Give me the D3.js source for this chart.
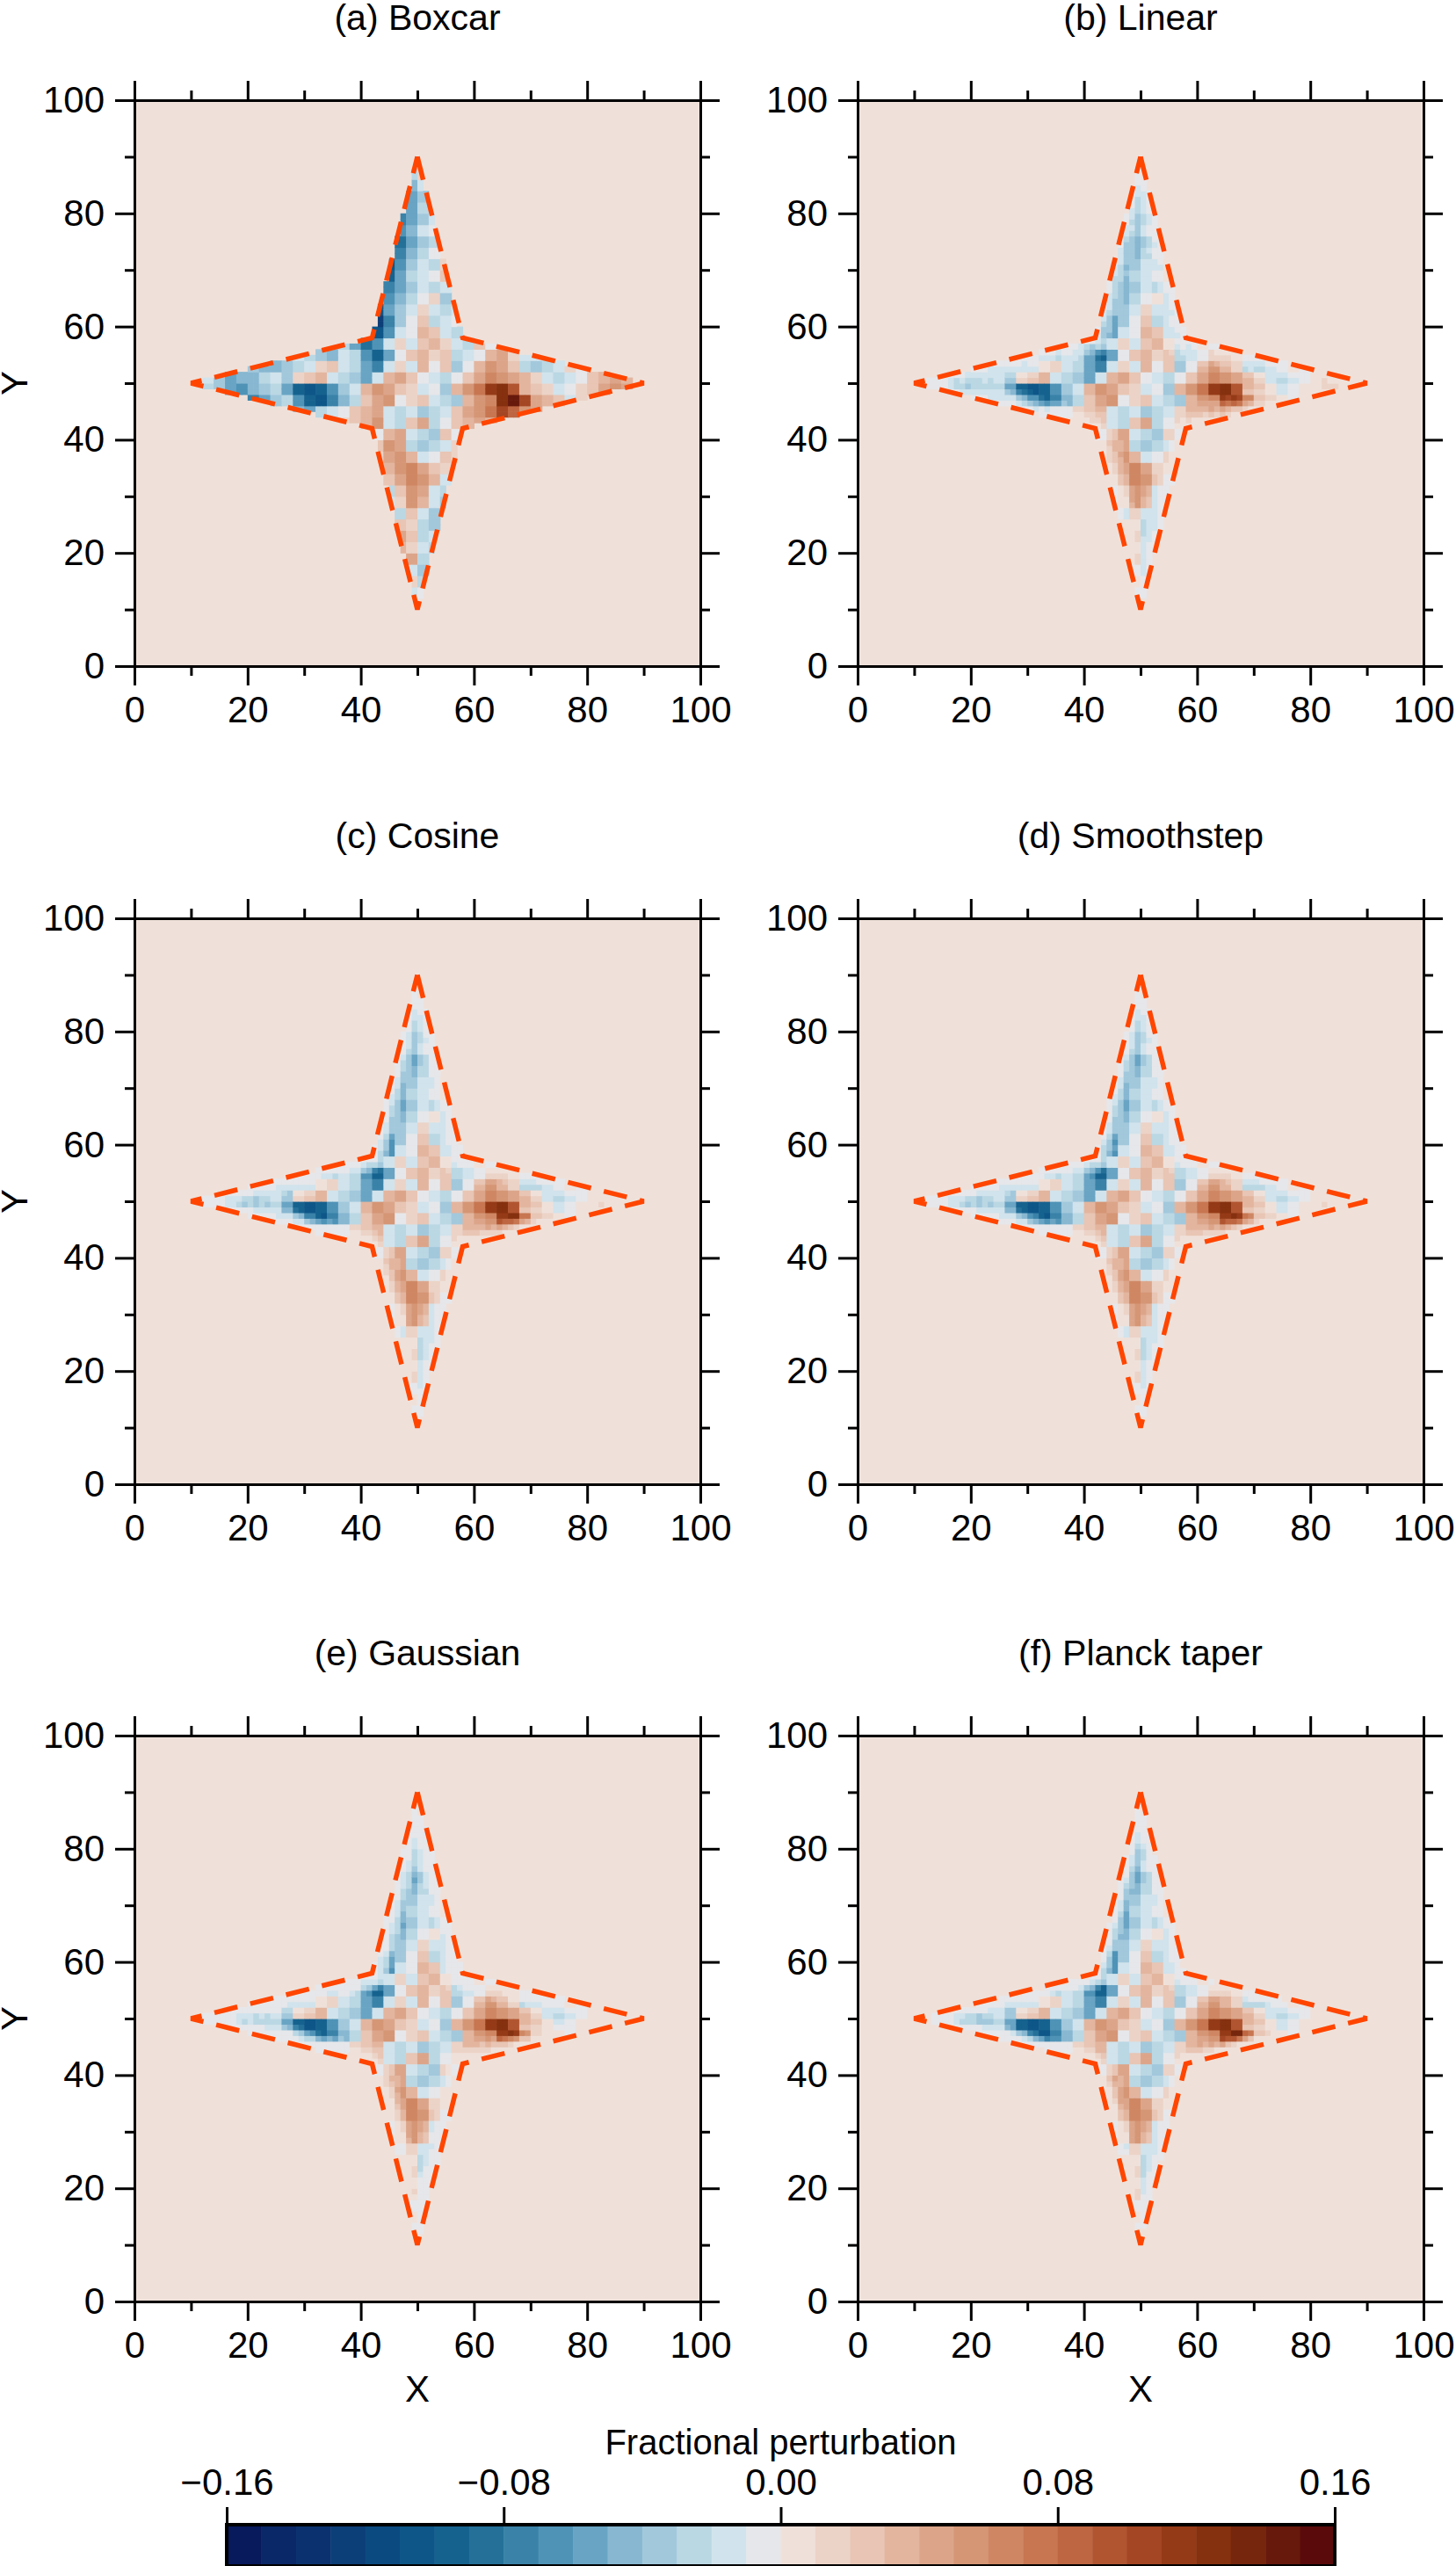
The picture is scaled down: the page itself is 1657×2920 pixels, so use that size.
<!DOCTYPE html>
<html>
<head>
<meta charset="utf-8">
<script src="https://cdn.jsdelivr.net/npm/d3@7"></script>
<style>
  body { margin: 0; background: #fff; }
  text { font-family: "Liberation Sans", Arial, sans-serif; fill: #000; }
</style>
</head>
<body>
<div id="chart"></div>
<script>
// panel titles and taper windows
const panelTitles = ["(a) Boxcar", "(b) Linear", "(c) Cosine", "(d) Smoothstep", "(e) Gaussian", "(f) Planck taper"];
const windows = ["boxcar", "linear", "cosine", "smoothstep", "gaussian", "planck"];

// star outline (data units)
const starX = [50, 58, 90, 58, 50, 42, 10, 42];
const starY = [90, 58, 50, 42, 10, 42, 50, 58];

// perturbation field, 2-unit cells, value in units of 0.01
// key: p..a = -16..-1, '.' = 0, A..P = +1..+16
const levelKey = "ponmlkjihgfedcba.ABCDEFGHIJKLMNOP";
// vertical arm, rows from y=90 down to y=10, cols x=42..58
const vertStrip = [
  "...bb...", "...cA...", "...ebd..", "...fdB..", "..gfcaB.", "..hfdbA.", "..gebaC.", "..ifdcB.",
  ".jhecaB.", ".kgdbcA.", ".jfcbaBa", "jhfdbcba", "jgecaAdb", "kfdbAbcb", "mhdaBcba", "kgbaCBbc",
  "........", "........", "........", "........", "........", "........", "........", "........",
  "aCDbcdBa", "BEDcdcbA", "ADECbaBA", "bCEFDBAa", "aBDFECba", "bcBEDbc.", ".bAECbd.", ".AcBbdc.",
  ".CBAcdb.", "..DBcb..", "..CAbc..", "..aDc...", "...bd...", "...Ac...", "...ba...", "...a...."
];
// horizontal arm, rows y=58 down to y=42, cols x=10..90
const horizStrip = [
  "............bcfigbAbBCAbcBaCBa..........",
  ".........bcdebcgjfaBCABcbaCDAbbcba......",
  "....cdeedcbABbcfhbAbCaBdaCEDBcdcbAaa....",
  ".bdfeecbdABCbcdfbCDBabcaBDFEDCAbcbaBCDC.",
  "acdfgedcfjkjgdbCEDBAbadCEGKLICBAbaABDEDA",
  ".begjhfdcgjkhecBDEaABbcdCEFLNJDCBbABCBa.",
  "....egcbdefcbaBCDbcbdcbBDEGJHEDCBaA.....",
  "..........dcbABCEbcBDcaBCDCB............"
];

const barColors = [
  "#08195c","#0a2767","#0b326f","#0c3e78","#0b4a80","#0d5687","#16628f","#247099",
  "#3a82a8","#4f93b7","#69a4c4","#87b7d1","#a2c8dc","#bad7e4","#d1e3ec","#e6e7ea",
  "#efe1da","#ecd3c7","#e8c5b4","#e3b59f","#dca58a","#d59676","#cf8763","#c77651",
  "#bd6641","#b15531","#a44623","#953a17","#85300f","#75260d","#67190c","#5a0a0a"
];
const barTicks = [-0.16, -0.08, 0, 0.08, 0.16];

const W = 1657, H = 2920;
const panelLeft = [153, 976];
const panelTop = [114, 1045, 1975];
const size = 644;
const taperWidth = 4;

const svg = d3.select("#chart").append("svg").attr("width", W).attr("height", H);

const star = starX.map((x, i) => [x, starY[i]]);

function edgeDist(p) {
  let best = Infinity;
  for (let i = 0; i < star.length; i++) {
    const a = star[i], b = star[(i + 1) % star.length];
    const dx = b[0] - a[0], dy = b[1] - a[1];
    let t = ((p[0] - a[0]) * dx + (p[1] - a[1]) * dy) / (dx * dx + dy * dy);
    t = Math.max(0, Math.min(1, t));
    best = Math.min(best, Math.hypot(p[0] - a[0] - t * dx, p[1] - a[1] - t * dy));
  }
  return best;
}

function weight(kind, d) {
  const t = Math.min(d / taperWidth, 1);
  if (kind === "boxcar") return 1;
  if (kind === "linear") return t;
  if (kind === "cosine") return 0.5 - 0.5 * Math.cos(Math.PI * t);
  if (kind === "smoothstep") return t * t * (3 - 2 * t);
  if (kind === "gaussian") return Math.exp(-((1 - t) * (1 - t)) / (2 * 0.35 * 0.35)) * (t > 0 ? 1 : 0);
  if (t >= 1) return 1;
  if (t <= 0) return 0;
  return 1 / (1 + Math.exp(1 / t - 1 / (1 - t)));
}

function baseValue(x, y) {
  const col = Math.floor((x - 10) / 2), row = Math.floor((90 - y) / 2);
  if (row < 0 || row > 39 || col < 0 || col > 39) return 0;
  let ch;
  if (row >= 16 && row <= 23) ch = horizStrip[row - 16].padEnd(40, ".")[col];
  else if (col >= 16 && col <= 23) ch = vertStrip[row][col - 16];
  else ch = ".";
  const k = levelKey.indexOf(ch);
  return k < 0 ? 0 : k - 16;
}

// cells inside the star (1-unit)
const cells = [];
for (let i = 10; i < 90; i++) {
  for (let j = 10; j < 90; j++) {
    const c = [i + 0.5, j + 0.5];
    if (d3.polygonContains(star, c)) cells.push({ x: i, y: j, v: baseValue(c[0], c[1]), d: edgeDist(c) });
  }
}

const x = d3.scaleLinear().domain([0, 100]).range([0, size]);
const y = d3.scaleLinear().domain([0, 100]).range([size, 0]);
const majors = d3.range(0, 101, 20), minors = d3.range(10, 100, 20);

function styleAxis(g) {
  g.selectAll(".domain").attr("stroke", "#000").attr("stroke-width", 3);
  g.selectAll(".tick line").attr("stroke", "#000").attr("stroke-width", 3);
  g.selectAll(".tick text").style("font-size", "42px").style("font-family", "Liberation Sans, Arial, sans-serif");
}

windows.forEach((kind, k) => {
  const col = k % 2, row = Math.floor(k / 2);
  const g = svg.append("g").attr("transform", "translate(" + [panelLeft[col], panelTop[row]] + ")");

  g.append("rect").attr("width", size).attr("height", size).attr("fill", barColors[16]);

  g.selectAll(".cell").data(cells).enter().append("rect")
    .attr("x", d => x(d.x)).attr("y", d => y(d.y + 1))
    .attr("width", x(1) + 0.6).attr("height", x(1) + 0.6)
    .attr("fill", d => {
      const v = d.v * weight(kind, d.d);
      const b = Math.max(0, Math.min(31, Math.floor(v + 1e-9) + 16));
      return barColors[b];
    });

  g.append("path")
    .attr("d", d3.line().x(p => x(p[0])).y(p => y(p[1]))(star.concat([star[0]])))
    .attr("fill", "none").attr("stroke", "#ff4500").attr("stroke-width", 5.5)
    .attr("stroke-dasharray", "27,15");

  // axes: labels on bottom/left, ticks outward on all sides
  const axes = [
    { a: d3.axisBottom(x), t: "translate(0," + size + ")", lab: true },
    { a: d3.axisLeft(y), t: "translate(0,0)", lab: true },
    { a: d3.axisTop(x), t: "translate(0,0)", lab: false },
    { a: d3.axisRight(y), t: "translate(" + size + ",0)", lab: false }
  ];
  axes.forEach(ax => {
    g.append("g").attr("transform", ax.t)
      .call(ax.a.tickValues(minors).tickSize(11).tickFormat(""))
      .call(styleAxis);
    g.append("g").attr("transform", ax.t)
      .call(ax.a.tickValues(majors).tickSize(22).tickPadding(12).tickFormat(ax.lab ? d3.format("d") : ""))
      .call(styleAxis);
  });

  g.append("text").attr("x", size / 2).attr("y", -80)
    .attr("text-anchor", "middle").style("font-size", "41px").text(panelTitles[k]);

  if (col === 0) {
    g.append("text").attr("transform", "translate(-122," + size / 2 + ") rotate(-90)")
      .attr("text-anchor", "middle").style("font-size", "42px").text("Y");
  }
  if (row === 2) {
    g.append("text").attr("x", size / 2).attr("y", size + 114)
      .attr("text-anchor", "middle").style("font-size", "42px").text("X");
  }
});

// colour bar
const barX = 258, barW = 1261, barY = 2873, barH = 47;
const cb = d3.scaleLinear().domain([-0.16, 0.16]).range([barX, barX + barW]);
const cbg = svg.append("g");
cbg.selectAll("rect").data(barColors).enter().append("rect")
  .attr("x", (c, i) => cb(-0.16 + i * 0.01)).attr("y", barY)
  .attr("width", cb(0.01) - cb(0) + 0.5).attr("height", barH).attr("fill", c => c);
cbg.append("rect").attr("x", barX).attr("y", barY).attr("width", barW).attr("height", barH)
  .attr("fill", "none").attr("stroke", "#000").attr("stroke-width", 4);
cbg.append("g").attr("transform", "translate(0," + barY + ")")
  .call(d3.axisTop(cb).tickValues(barTicks).tickSize(20).tickPadding(14)
    .tickFormat(v => (v < 0 ? "\u2212" : "") + Math.abs(v).toFixed(2)))
  .call(g => g.select(".domain").remove())
  .call(styleAxis);
svg.append("text").attr("x", cb(0)).attr("y", 2793).attr("text-anchor", "middle")
  .style("font-size", "40px").text("Fractional perturbation");
</script>
</body>
</html>
